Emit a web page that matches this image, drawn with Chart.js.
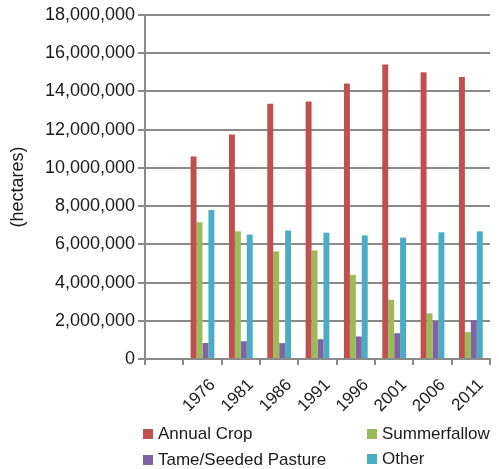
<!DOCTYPE html>
<html>
<head>
<meta charset="utf-8">
<script src="https://cdn.jsdelivr.net/npm/chart.js@4/dist/chart.umd.min.js"></script>
<style>
  html, body { margin: 0; padding: 0; background: #fff; overflow: hidden; }
  #wrap { position: relative; width: 499px; height: 469px; overflow: hidden; }
  #chart { position: absolute; left: 0; top: 0; }
  .leg-item { position: absolute; font: 17px "Liberation Sans", Arial, sans-serif; color: #1a1a1a; line-height: 20px; white-space: nowrap; }
  .leg-box { position: absolute; width: 10px; height: 10px; }
</style>
</head>
<body>
<div id="wrap">
  <canvas id="chart" width="499" height="469"></canvas>
  <div id="legend"></div>
</div>
<script>
// Census years (first slot left empty on the axis)
const years = ['', '1976', '1981', '1986', '1991', '1996', '2001', '2006', '2011'];

// Land use area, hectares
const annualCrop   = [null, 10590000, 11750000, 13350000, 13470000, 14420000, 15410000, 15000000, 14750000];
const summerfallow = [null,  7160000,  6680000,  5630000,  5680000,  4400000,  3100000,  2390000,  1410000];
const pasture      = [null,   840000,   930000,   830000,  1040000,  1180000,  1350000,  1980000,  2020000];
const other        = [null,  7790000,  6510000,  6720000,  6610000,  6470000,  6350000,  6630000,  6680000];

const seriesNames = ['Annual Crop', 'Summerfallow', 'Tame/Seeded Pasture', 'Other'];
const seriesColors = ['#C0504D', '#9BBB59', '#8064A2', '#4BACC6'];
const seriesData = [annualCrop, summerfallow, pasture, other];

const gridColor = '#8a8a8a';
Chart.defaults.font.family = '"Liberation Sans", Arial, sans-serif';
Chart.defaults.color = '#1a1a1a';

new Chart(document.getElementById('chart'), {
  type: 'bar',
  data: {
    labels: years,
    datasets: seriesNames.map((name, i) => ({
      label: name,
      data: seriesData[i],
      backgroundColor: seriesColors[i],
      borderWidth: 0
    }))
  },
  options: {
    responsive: false,
    animation: false,
    layout: { padding: { top: 15, right: 9, left: 0, bottom: 0 } },
    datasets: { bar: { categoryPercentage: 0.62, barPercentage: 1.0 } },
    plugins: { legend: { display: false }, tooltip: { enabled: false } },
    scales: {
      x: {
        offset: true,
        grid: { offset: true, drawOnChartArea: false, drawTicks: true, tickLength: 6, color: gridColor, lineWidth: 2 },
        border: { color: gridColor, width: 2 },
        ticks: { minRotation: 45, maxRotation: 45, autoSkip: false, labelOffset: 10, padding: 10, font: { size: 17 } },
        afterFit(scale) { scale.height = 110; }
      },
      y: {
        min: 0,
        max: 18000000,
        ticks: { stepSize: 2000000, padding: 3, font: { size: 18 }, callback: v => v.toLocaleString('en-US') },
        grid: { color: gridColor, lineWidth: 2, tickLength: 7 },
        border: { color: gridColor, width: 2 },
        title: { display: true, text: '(hectares)', font: { size: 18 }, padding: { top: 7, bottom: 0 } },
        afterFit(scale) { scale.width = 145; }
      }
    }
  }
});

// Two-column legend below the axis
const legendPos = [[143, 429], [367, 429], [143, 455], [367, 454]];
const legend = document.getElementById('legend');
seriesNames.forEach((name, i) => {
  const [x, y] = legendPos[i];
  const box = document.createElement('div');
  box.className = 'leg-box';
  box.style.left = x + 'px';
  box.style.top = y + 'px';
  box.style.background = seriesColors[i];
  legend.appendChild(box);
  const txt = document.createElement('div');
  txt.className = 'leg-item';
  txt.style.left = (x + 15) + 'px';
  txt.style.top = (y - 5) + 'px';
  txt.textContent = name;
  legend.appendChild(txt);
});
</script>
</body>
</html>
